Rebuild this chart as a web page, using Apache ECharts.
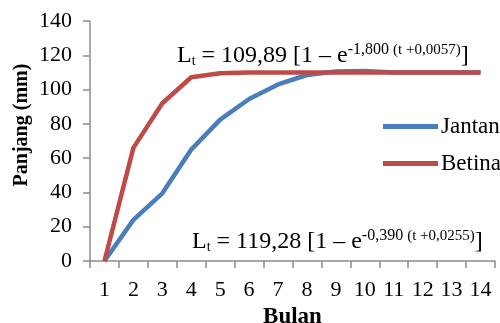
<!DOCTYPE html>
<html>
<head>
<meta charset="utf-8">
<script src="https://cdn.jsdelivr.net/npm/echarts@6/dist/echarts.min.js"></script>
<style>
  html, body { margin: 0; padding: 0; background: #fff; }
  #chart { width: 500px; height: 323px; }
</style>
</head>
<body>
<div id="chart"></div>
<script>
// months (Bulan)
const months = ['1', '2', '3', '4', '5', '6', '7', '8', '9', '10', '11', '12', '13', '14'];
// length in mm
const jantan = [0, 24, 39.5, 65, 82.5, 94.5, 103, 108.5, 110.6, 110.8, 110, 110, 110, 110];
const betina = [0, 66, 92, 107.2, 109.5, 109.9, 109.9, 109.9, 109.9, 109.9, 109.9, 109.9, 109.9, 109.9];
const yTicks = { min: 0, max: 140, step: 20 };

const serif = '"Liberation Serif", "Times New Roman", serif';
const axisGrey = '#8c8c8c';

const chart = echarts.init(document.getElementById('chart'));

// rich styles for the two growth equations
const eqRich = {
  m: { fontFamily: serif, fontSize: 24, color: '#000', lineHeight: 26, verticalAlign: 'bottom' },
  sub: { fontFamily: serif, fontSize: 14, color: '#000', lineHeight: 26, verticalAlign: 'bottom' },
  sup: { fontFamily: serif, fontSize: 16, color: '#000', lineHeight: 26, verticalAlign: 'top' },
  sup2: { fontFamily: serif, fontSize: 15, color: '#000', lineHeight: 26, verticalAlign: 'top', padding: [1, 0, 0, 0] }
};

chart.setOption({
  animation: false,
  grid: { left: 90, right: 5, top: 21, bottom: 62, outerBoundsMode: 'none' },
  legend: {
    orient: 'vertical',
    left: 378,
    top: 110,
    itemWidth: 55,
    itemHeight: 5,
    itemGap: 14,
    textStyle: { fontFamily: serif, fontSize: 23, color: '#000', padding: [0, 0, 0, -2] },
    icon: 'rect',
    data: ['Jantan', 'Betina']
  },
  xAxis: {
    type: 'category',
    data: months,
    boundaryGap: true,
    axisLine: { lineStyle: { color: axisGrey, width: 1.5 } },
    axisTick: { show: true, length: 7, lineStyle: { color: axisGrey, width: 1.5 } },
    axisLabel: { fontFamily: serif, fontSize: 22, color: '#000', margin: 18 },
    name: 'Bulan',
    nameLocation: 'middle',
    nameGap: 41,
    nameTextStyle: { fontFamily: serif, fontSize: 23, fontWeight: 'bold', color: '#000' }
  },
  yAxis: {
    type: 'value',
    min: yTicks.min,
    max: yTicks.max,
    interval: yTicks.step,
    splitLine: { show: false },
    axisLine: { show: true, lineStyle: { color: axisGrey, width: 1.5 } },
    axisTick: { show: true, length: 7, lineStyle: { color: axisGrey, width: 1.5 } },
    axisLabel: { fontFamily: serif, fontSize: 22, color: '#000', margin: 18 }
  },
  series: [
    {
      name: 'Jantan',
      type: 'line',
      data: jantan,
      symbol: 'none',
      color: '#4a7ebb',
      lineStyle: { width: 4.5, color: '#4a7ebb' },
      z: 2
    },
    {
      name: 'Betina',
      type: 'line',
      data: betina,
      symbol: 'none',
      color: '#be4b48',
      lineStyle: { width: 4.5, color: '#be4b48' },
      z: 3
    }
  ],
  graphic: [
    {
      type: 'text',
      x: 22,
      y: 125,
      rotation: Math.PI / 2,
      style: {
        text: 'Panjang (mm)',
        fontFamily: serif,
        fontSize: 20,
        fontWeight: 'bold',
        fill: '#000',
        align: 'center',
        verticalAlign: 'middle'
      }
    },
    {
      type: 'text',
      x: 177,
      y: 42,
      z: 10,
      style: {
        text: '{m|L}{sub|t}{m| = 109,89 [1 – e}{sup|-1,800 }{sup2|(t +0,0057)}{m|]}',
        rich: eqRich
      }
    },
    {
      type: 'text',
      x: 192,
      y: 228,
      z: 10,
      style: {
        text: '{m|L}{sub|t}{m| = 119,28 [1 – e}{sup|-0,390 }{sup2|(t +0,0255)}{m|]}',
        rich: eqRich
      }
    }
  ]
});
</script>
</body>
</html>
